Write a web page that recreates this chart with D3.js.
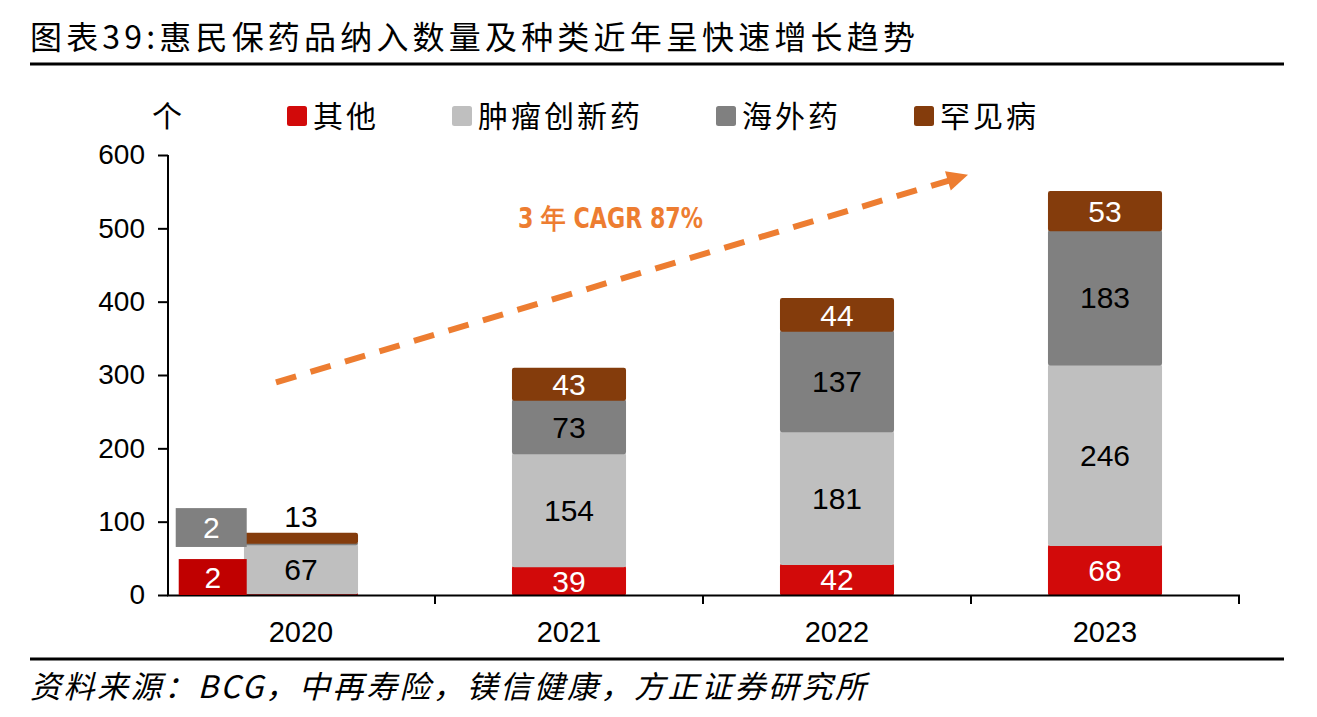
<!DOCTYPE html>
<html>
<head>
<meta charset="utf-8">
<script src="https://cdn.jsdelivr.net/npm/d3@7"></script>
<style>
  html, body { margin: 0; padding: 0; background: #fff; }
  svg { display: block; }
</style>
</head>
<body>
<svg id="chart" width="1317" height="717"></svg>
<script>
// ---------------- data ----------------
const categories = ["2020", "2021", "2022", "2023"];
const seriesNames = ["其他", "肿瘤创新药", "海外药", "罕见病"];
const otherVals    = [2, 39, 42, 68];
const oncologyVals = [67, 154, 181, 246];
const overseasVals = [2, 73, 137, 183];
const rareVals     = [13, 43, 44, 53];
const yTicks = [0, 100, 200, 300, 400, 500, 600];
const titleText = "图表39:惠民保药品纳入数量及种类近年呈快速增长趋势";
const sourceText = "资料来源：BCG，中再寿险，镁信健康，方正证券研究所";
const unitText = "个";
const cagrText = "3 年 CAGR 87%";

// ---------------- styles ----------------
const colors = ["#D20A0A", "#BFBFBF", "#808080", "#843C0C"];
const labelColors = ["#fff", "#000", "#000", "#fff"];
const cjk = "'Noto Sans CJK SC', 'Noto Sans', sans-serif";
const num = "'Liberation Sans', Arial, sans-serif";

const svg = d3.select("#chart");

// title + rules
svg.append("text").attr("x", 30).attr("y", 49)
  .attr("font-family", cjk).attr("font-size", 32).attr("fill", "#000")
  .attr("textLength", 885).attr("lengthAdjust", "spacing")
  .text(titleText);
svg.append("rect").attr("x", 30).attr("y", 62.5).attr("width", 1254).attr("height", 3).attr("fill", "#000");
svg.append("rect").attr("x", 30).attr("y", 657.5).attr("width", 1254).attr("height", 3).attr("fill", "#000");
svg.append("text").attr("x", 30).attr("y", 698)
  .attr("font-family", cjk).attr("font-size", 31).attr("font-style", "italic").attr("fill", "#000")
  .attr("letter-spacing", 2.5)
  .text(sourceText);

// scales
const x = d3.scaleBand().domain(categories).range([167, 1239]).paddingInner(0.58).paddingOuter(0.29);
const y = d3.scaleLinear().domain([0, 600]).range([595, 155]);
const step = x.step();

// stack
const rows = categories.map((c, i) => ({
  cat: c, s0: otherVals[i], s1: oncologyVals[i], s2: overseasVals[i], s3: rareVals[i]
}));
const stack = d3.stack().keys(["s0", "s1", "s2", "s3"])(rows);

const g = svg.append("g");
stack.forEach((layer, si) => {
  g.selectAll(null).data(layer).enter().append("rect")
    .attr("x", d => x(d.data.cat))
    .attr("y", d => y(d[1]))
    .attr("width", x.bandwidth())
    .attr("height", d => Math.max(0.5, y(d[0]) - y(d[1])))
    .attr("fill", colors[si])
    .attr("stroke", colors[si]).attr("stroke-width", 1.5)
    .attr("rx", 1.5);
});

// axes
const yAxis = d3.axisLeft(y).tickValues(yTicks).tickSize(10).tickSizeOuter(0).tickPadding(13);
const ya = svg.append("g").attr("transform", "translate(168,0)").call(yAxis);
ya.select(".domain").attr("stroke", "#000").attr("stroke-width", 2).attr("d", `M0,${y(600)}V${y(0) + 1}`);
ya.selectAll(".tick line").attr("stroke", "#000").attr("stroke-width", 2);
ya.selectAll(".tick text").attr("font-family", num).attr("font-size", 28).attr("fill", "#000");

svg.append("line").attr("x1", 167).attr("x2", 1240).attr("y1", y(0) + 0.5).attr("y2", y(0) + 0.5)
  .attr("stroke", "#000").attr("stroke-width", 2);
categories.forEach(c => {
  const bx = x(c) - step * x.paddingInner() / 2 + step;
  svg.append("line").attr("x1", bx).attr("x2", bx).attr("y1", y(0)).attr("y2", y(0) + 9)
    .attr("stroke", "#000").attr("stroke-width", 2);
  svg.append("text").attr("x", x(c) + x.bandwidth() / 2).attr("y", 642)
    .attr("text-anchor", "middle").attr("font-family", num).attr("font-size", 29).attr("fill", "#000")
    .text(c);
});

// segment labels
const calloutBoxes = { // small segments of 2020 shown as boxes left of the bar (value-space ranges)
  s0: { lo: 0, hi: 49, left: -66, right: 2, fill: "#C00000" },
  s2: { lo: 65.5, hi: 118.5, left: -69, right: 2, fill: "#808080" }
};
stack.forEach((layer, si) => {
  layer.forEach(d => {
    const v = d[1] - d[0];
    const cx = x(d.data.cat) + x.bandwidth() / 2;
    const hpx = y(d[0]) - y(d[1]);
    if (v < 5 && calloutBoxes[layer.key]) {
      const b = calloutBoxes[layer.key];
      const x0 = x(d.data.cat) + b.left, x1 = x(d.data.cat) + b.right;
      svg.append("rect").attr("x", x0).attr("y", y(b.hi)).attr("width", x1 - x0)
        .attr("height", y(b.lo) - y(b.hi)).attr("fill", b.fill);
      svg.append("text").attr("x", (x0 + x1) / 2).attr("y", (y(b.lo) + y(b.hi)) / 2)
        .attr("dy", "0.36em").attr("text-anchor", "middle")
        .attr("font-family", num).attr("font-size", 30).attr("fill", "#fff").text(v);
    } else if (hpx < 20) {
      svg.append("text").attr("x", cx).attr("y", y(d[1]) - 17)
        .attr("dy", "0.36em").attr("text-anchor", "middle")
        .attr("font-family", num).attr("font-size", 30).attr("fill", "#000").text(v);
    } else {
      svg.append("text").attr("x", cx).attr("y", (y(d[0]) + y(d[1])) / 2)
        .attr("dy", "0.36em").attr("text-anchor", "middle")
        .attr("font-family", num).attr("font-size", 30).attr("fill", labelColors[si]).text(v);
    }
  });
});

// legend
svg.append("text").attr("x", 167).attr("y", 127).attr("text-anchor", "middle")
  .attr("font-family", cjk).attr("font-size", 30).attr("fill", "#000").text(unitText);
let lx = 287;
seriesNames.forEach((name, i) => {
  svg.append("rect").attr("x", lx).attr("y", 106).attr("width", 20).attr("height", 20)
    .attr("rx", 2.5).attr("fill", colors[i]);
  svg.append("text").attr("x", lx + 26).attr("y", 127)
    .attr("font-family", cjk).attr("font-size", 30).attr("letter-spacing", 3).attr("fill", "#000")
    .text(name);
  lx += 26 + name.length * 33 + 73;
});

// CAGR annotation arrow
const ax0 = x("2020") + x.bandwidth() / 2 - 25, ay0 = y(290);
const ax1 = x("2023") + x.bandwidth() / 2 - 137, ay1 = y(573);
const ang = Math.atan2(ay1 - ay0, ax1 - ax0);
const headLen = 21, headHalf = 10;
const bx = ax1 - headLen * Math.cos(ang), by = ay1 - headLen * Math.sin(ang);
svg.append("line").attr("x1", ax0).attr("y1", ay0).attr("x2", bx + 2 * Math.cos(ang)).attr("y2", by + 2 * Math.sin(ang))
  .attr("stroke", "#ED7D31").attr("stroke-width", 6).attr("stroke-dasharray", "21 15");
svg.append("path")
  .attr("d", `M${ax1},${ay1}L${bx - headHalf * Math.sin(ang)},${by + headHalf * Math.cos(ang)}L${bx + headHalf * Math.sin(ang)},${by - headHalf * Math.cos(ang)}Z`)
  .attr("fill", "#ED7D31");
svg.append("text").attr("x", 518).attr("y", 228)
  .attr("font-family", "'DejaVu Sans Condensed', 'Liberation Sans', sans-serif").attr("font-weight", "bold")
  .attr("font-size", 28).attr("fill", "#ED7D31")
  .attr("textLength", 185).attr("lengthAdjust", "spacingAndGlyphs")
  .text(cagrText);
</script>
</body>
</html>
